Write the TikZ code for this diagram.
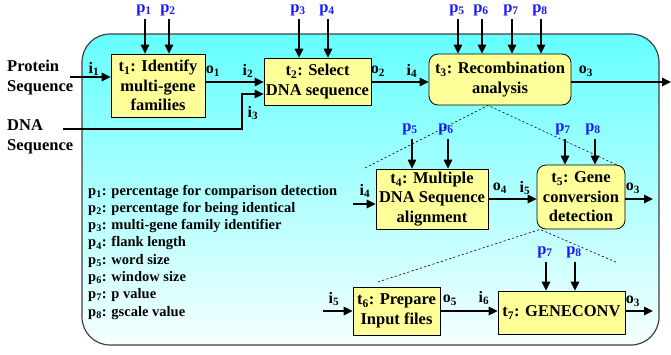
\documentclass[tikz,border=0pt]{standalone}
\usepackage{fontspec}
\setmainfont{Liberation Serif}
\usetikzlibrary{arrows.meta,calc}
\definecolor{boxyellow}{RGB}{255,255,153}
\definecolor{parblue}{RGB}{25,25,255}
\definecolor{bgtop}{RGB}{100,255,255}
\definecolor{bgbot}{RGB}{246,255,255}
\newcommand\sbx[2]{#1\textsubscript{#2}}
\begin{document}
\begin{tikzpicture}[x=1pt,y=-1pt,
  box/.style={draw=black,line width=0.8pt,fill=boxyellow,align=center,inner sep=1pt,font=\fontsize{16.5}{19.5}\selectfont\bfseries},
  rbox/.style={box,rounded corners=9pt},
  parlbl/.style={text=parblue,font=\fontsize{16.5}{18}\selectfont\bfseries,inner sep=0pt},
  iolbl/.style={font=\fontsize{16}{18}\selectfont\bfseries,inner sep=0pt},
  srclbl/.style={font=\fontsize{16.5}{20.5}\selectfont\bfseries,align=left,inner sep=0pt,anchor=west},
  leglbl/.style={font=\fontsize{14.5}{17}\selectfont\bfseries,inner sep=0pt,anchor=base west},
  flow/.style={line width=1.6pt,-{Triangle[length=9pt,width=8.5pt]}},
  dashline/.style={line width=0.6pt,dash pattern=on 2.2pt off 2.2pt},
]
\useasboundingbox (0,0) rectangle (671,354);
\path[draw=black!75,line width=1.2pt,rounded corners=28pt,top color=bgtop,bottom color=bgbot] (82,34) rectangle (659,345);

% task boxes
\node[box,minimum width=94pt,minimum height=63pt] (t1) at (158,85.5) {\sbx{t}{1}: Identify\\multi-gene\\families};
\node[box,minimum width=107pt,minimum height=47pt] (t2) at (317.5,81.5) {\sbx{t}{2}: Select\\DNA sequence};
\node[rbox,minimum width=142pt,minimum height=51pt] (t3) at (500,79.5) {\sbx{t}{3}: Recombination\\analysis};
\node[box,minimum width=112pt,minimum height=60pt] (t4) at (432,199) {\sbx{t}{4}: Multiple\\DNA Sequence\\alignment};
\node[rbox,minimum width=88pt,minimum height=64pt] (t5) at (581,197) {\sbx{t}{5}: Gene\\conversion\\detection};
\node[box,minimum width=87pt,minimum height=48pt] (t6) at (396.5,311) {\sbx{t}{6}: Prepare\\Input files};
\node[box,minimum width=127pt,minimum height=43pt] (t7) at (561.5,312.5) {\sbx{t}{7}: GENECONV};

% sources
\node[srclbl] (prot) at (7,77.5) {Protein\\Sequence};
\node[srclbl] (dna) at (7,137) {DNA\\Sequence};

% row 1 flows
\coordinate (protin) at (70,77);
\draw[flow] (protin) -- (protin -| t1.west);
\coordinate (dnain) at (63,129);
\coordinate (dnabend) at (242,129);
\coordinate (t2in3) at (242,94);
\draw[flow] (dnain) -- (dnabend) -- (t2in3) -- (t2in3 -| t2.west);
\coordinate (row1) at (0,82);
\draw[flow] (t1.east |- row1) -- (t2.west |- row1);
\draw[flow] (t2.east |- row1) -- (t3.west |- row1);
\coordinate (out1) at (671,82);
\draw[flow] (t3.east |- row1) -- (out1);

% row 2 flows
\coordinate (in4) at (353,204);
\draw[flow] (in4) -- (in4 -| t4.west);
\coordinate (row2) at (0,199);
\draw[flow] (t4.east |- row2) -- (t5.west |- row2);
\coordinate (out2) at (653,199);
\draw[flow] (t5.east |- row2) -- (out2);

% row 3 flows
\coordinate (in5) at (323,311);
\draw[flow] (in5) -- (in5 -| t6.west);
\coordinate (row3) at (0,311);
\draw[flow] (t6.east |- row3) -- (t7.west |- row3);
\coordinate (out3) at (653,311);
\draw[flow] (t7.east |- row3) -- (out3);

% io labels
\node[iolbl] (li1) at (94,69) {\sbx{i}{1}};
\node[iolbl] (lo1) at (213,71) {\sbx{o}{1}};
\node[iolbl] (li2) at (248,71) {\sbx{i}{2}};
\node[iolbl] (li3) at (253,113) {\sbx{i}{3}};
\node[iolbl] (lo2) at (378,71) {\sbx{o}{2}};
\node[iolbl] (li4) at (412,71) {\sbx{i}{4}};
\node[iolbl] (lo3) at (586,71) {\sbx{o}{3}};
\node[iolbl] (li4b) at (365,191) {\sbx{i}{4}};
\node[iolbl] (lo4) at (500,188) {\sbx{o}{4}};
\node[iolbl] (li5) at (525,188) {\sbx{i}{5}};
\node[iolbl] (lo3b) at (633,188) {\sbx{o}{3}};
\node[iolbl] (li5b) at (334,299) {\sbx{i}{5}};
\node[iolbl] (lo5) at (450,300) {\sbx{o}{5}};
\node[iolbl] (li6) at (484,298) {\sbx{i}{6}};
\node[iolbl] (lo3c) at (633,301) {\sbx{o}{3}};

% parameters, top row
\foreach \k/\x/\tgt in {1/145/t1,2/169/t1,3/299/t2,4/328/t2,5/458/t3,6/482/t3,7/512/t3,8/541/t3}{
  \node[parlbl] (pa\k) at (\x-1,10) {\sbx{p}{\k}};
  \coordinate (pta\k) at ($(pa\k.south)+(1,3)$);
  \draw[flow] (pta\k) -- (pta\k |- \tgt.north);
}
% parameters, second row
\foreach \k/\x/\tgt in {5/412/t4,6/448/t4,7/565/t5,8/595/t5}{
  \node[parlbl] (pb\k) at (\x-2,129) {\sbx{p}{\k}};
  \coordinate (ptb\k) at ($(pb\k.south)+(2,4)$);
  \draw[flow] (ptb\k) -- (ptb\k |- \tgt.north);
}
% parameters, third row
\foreach \k/\x/\tgt in {7/546/t7,8/575/t7}{
  \node[parlbl] (pc\k) at (\x-1,252) {\sbx{p}{\k}};
  \coordinate (ptc\k) at ($(pc\k.south)+(1,4)$);
  \draw[flow] (ptc\k) -- (ptc\k |- \tgt.north);
}

% dashed expansion lines
\coordinate (d1a) at ($(t3.south)+(-12,0)$);
\coordinate (d1l) at (365,168);
\coordinate (d1r) at (617,165);
\draw[dashline] (d1l) -- (d1a) -- (d1r);
\coordinate (d2a) at ($(t5.south)+(-41,0)$);
\coordinate (d2l) at (378,282);
\coordinate (d2r) at (618,263);
\draw[dashline] (d2l) -- (d2a) -- (d2r);

% legend
\foreach \k/\t [count=\i from 0] in {1/percentage for comparison detection,2/percentage for being identical,3/multi-gene family identifier,4/flank length,5/word size,6/window size,7/p value,8/gscale value}{
  \node[leglbl] (leg\k) at (88,{195+17.3*\i}) {\sbx{p}{\k}: \t};
}
\end{tikzpicture}
\end{document}
